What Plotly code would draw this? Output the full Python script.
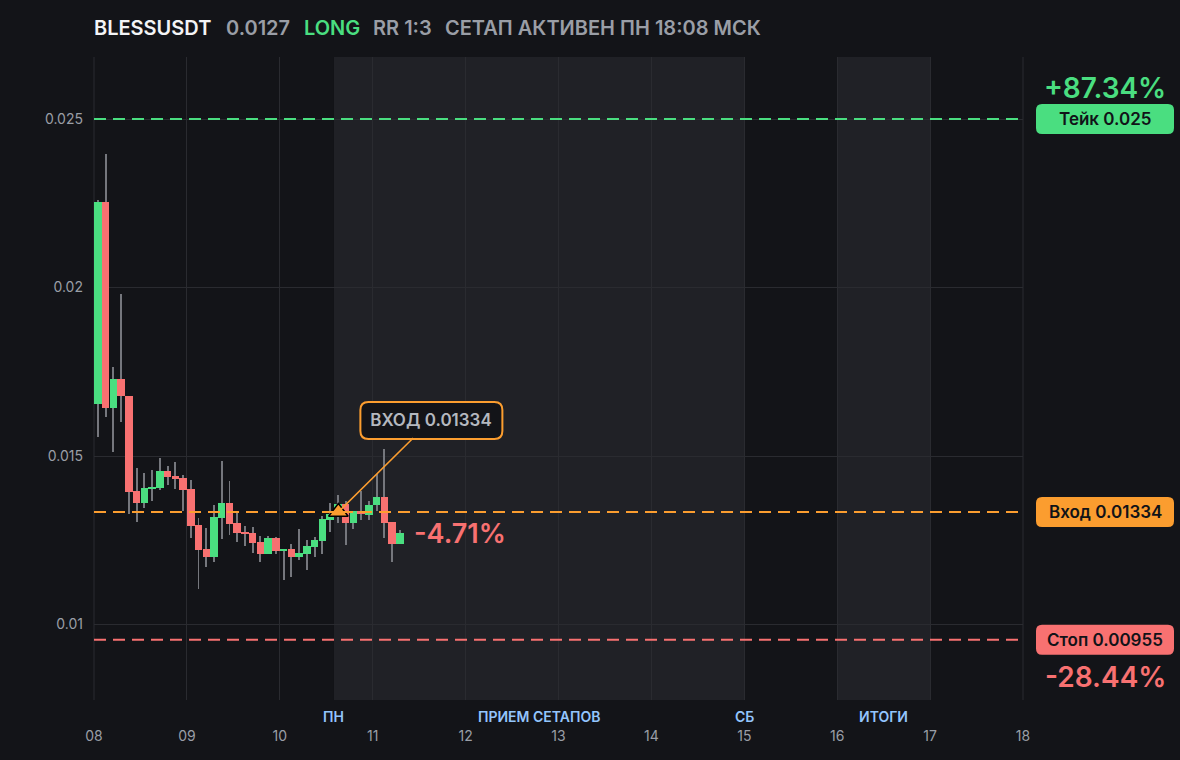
import pandas as pd
import plotly.graph_objects as go

# --- данные сетапа ---
SYMBOL = "BLESSUSDT"
LAST_PRICE = "0.0127"
TAKE = 0.025
ENTRY = 0.01334
STOP = 0.00955
ENTRY_TIME = "2025-11-10 15:08"
FIRST_CANDLE = "2025-11-08 01:00"

# 2h свечи
opens = [0.01655, 0.02254, 0.01643, 0.01729, 0.01677, 0.01396, 0.01362, 0.01403,
         0.01405, 0.01456, 0.01441, 0.01435, 0.01402, 0.01295, 0.01224, 0.01200,
         0.01316, 0.01361, 0.01301, 0.01275, 0.01272, 0.01245, 0.01209, 0.01257,
         0.01218, 0.01224, 0.01200, 0.01209, 0.01230, 0.01248, 0.01310, 0.01325,
         0.01358, 0.01301, 0.01337, 0.01325, 0.01355, 0.01378, 0.01304, 0.01239]
highs = [0.02260, 0.02396, 0.01764, 0.01981, 0.01677, 0.01464, 0.01450, 0.01459,
         0.01494, 0.01470, 0.01482, 0.01444, 0.01429, 0.01316, 0.01286, 0.01355,
         0.01485, 0.01426, 0.01331, 0.01292, 0.01290, 0.01263, 0.01263, 0.01260,
         0.01224, 0.01239, 0.01283, 0.01251, 0.01260, 0.01322, 0.01361, 0.01384,
         0.01367, 0.01337, 0.01396, 0.01367, 0.01447, 0.01521, 0.01304, 0.01280]
lows = [0.01557, 0.01617, 0.01513, 0.01602, 0.01328, 0.01305, 0.01347, 0.01367,
        0.01400, 0.01414, 0.01402, 0.01337, 0.01257, 0.01106, 0.01171, 0.01186,
        0.01254, 0.01266, 0.01245, 0.01233, 0.01212, 0.01186, 0.01209, 0.01209,
        0.01132, 0.01141, 0.01191, 0.01162, 0.01200, 0.01209, 0.01275, 0.01301,
        0.01236, 0.01283, 0.01310, 0.01310, 0.01337, 0.01257, 0.01186, 0.01239]
closes = [0.02254, 0.01643, 0.01729, 0.01677, 0.01394, 0.01362, 0.01405, 0.01409,
          0.01456, 0.01438, 0.01432, 0.01400, 0.01292, 0.01222, 0.01200, 0.01319,
          0.01361, 0.01298, 0.01272, 0.01269, 0.01242, 0.01209, 0.01257, 0.01218,
          0.01224, 0.01200, 0.01212, 0.01233, 0.01251, 0.01313, 0.01328, 0.01358,
          0.01301, 0.01337, 0.01328, 0.01355, 0.01378, 0.01301, 0.01239, 0.01271]
times = pd.date_range(FIRST_CANDLE, periods=len(opens), freq="2h")

# зоны недели и подписи к ним
zones = [("2025-11-10 14:00", "2025-11-15 00:00"),
         ("2025-11-16 00:00", "2025-11-17 00:00")]
zone_labels = [("2025-11-10 14:00", "ПН"),
               ("2025-11-12 19:00", "ПРИЕМ СЕТАПОВ"),
               ("2025-11-15 00:00", "СБ"),
               ("2025-11-16 12:00", "ИТОГИ")]

# --- стиль ---
BG = "#131418"
ZONE = "#202126"
GRID = "#2a2b30"
MUTED = "#9a9ea6"
GREEN = "#4ade80"
RED = "#f87171"
ORANGE = "#fb9d2f"
WICK = "#75777d"
FONT = "Inter"

PLOT_L, PLOT_R, PLOT_T, PLOT_B = 94, 1023, 57, 700


def paper_x(px):
    return (px - PLOT_L) / (PLOT_R - PLOT_L)


def rounded(x0, x1, y0, y1, r):
    return (f"M {x0 + r},{y0} L {x1 - r},{y0} Q {x1},{y0} {x1},{y0 + r} "
            f"L {x1},{y1 - r} Q {x1},{y1} {x1 - r},{y1} L {x0 + r},{y1} "
            f"Q {x0},{y1} {x0},{y1 - r} L {x0},{y0 + r} Q {x0},{y0} {x0 + r},{y0} Z")


colors = [GREEN if c >= o else RED for o, c in zip(opens, closes)]
body_base = [min(o, c) for o, c in zip(opens, closes)]
body_len = [abs(c - o) for o, c in zip(opens, closes)]
wick_len = [h - l for h, l in zip(highs, lows)]

fig = go.Figure()

# фитили
fig.add_trace(go.Bar(
    x=times, y=wick_len, base=lows, width=900000,
    marker=dict(color=WICK, line=dict(width=0)), hoverinfo="skip"
))
# тела свечей
fig.add_trace(go.Bar(
    x=times, y=body_len, base=body_base, width=6950000,
    marker=dict(color=colors, line=dict(width=0)),
    customdata=list(zip(opens, highs, lows, closes)),
    hovertemplate="O %{customdata[0]}<br>H %{customdata[1]}<br>L %{customdata[2]}<br>C %{customdata[3]}<extra></extra>"
))
# точка входа
fig.add_trace(go.Scatter(
    x=[ENTRY_TIME], y=[ENTRY], mode="markers",
    marker=dict(symbol="triangle-up", size=17, color=ORANGE, line=dict(color="#000000", width=1.5)),
    hoverinfo="skip"
))

for x0, x1 in zones:
    fig.add_shape(type="rect", xref="x", yref="paper", x0=x0, x1=x1, y0=0, y1=1,
                  fillcolor=ZONE, line=dict(width=0), layer="below")

# крайние линии сетки
for edge in (0, 1):
    fig.add_shape(type="line", xref="paper", yref="paper", x0=edge, x1=edge, y0=0, y1=1,
                  line=dict(color=GRID, width=1), layer="below")

for x, text in zone_labels:
    fig.add_annotation(x=x, y=0, xref="x", yref="paper", yshift=-16, showarrow=False,
                       text=text, xanchor="center", yanchor="middle",
                       font=dict(family=FONT, size=14, color="#93c5fd", weight=600))

# уровни тейк / вход / стоп
for level, color in [(TAKE, GREEN), (ENTRY, ORANGE), (STOP, RED)]:
    fig.add_shape(type="line", xref="paper", x0=0, x1=1, y0=level, y1=level,
                  line=dict(color=color, width=2, dash="12px,7px"), layer="above")

# плашки справа
badge_x = paper_x(1105)
for level, color, text in [(TAKE, GREEN, "Тейк 0.025"),
                           (ENTRY, ORANGE, "Вход 0.01334"),
                           (STOP, RED, "Стоп 0.00955")]:
    fig.add_shape(type="path", xref="paper", yref="y", xsizemode="pixel", ysizemode="pixel",
                  xanchor=badge_x, yanchor=level, path=rounded(-69, 69, -15, 15, 6),
                  fillcolor=color, line=dict(width=0), layer="above")
    fig.add_annotation(x=badge_x, y=level, xref="paper", yref="y", showarrow=False,
                       xanchor="center", yanchor="middle", text=text,
                       font=dict(family=FONT, size=17, color="#111318", weight=600))

fig.add_annotation(x=badge_x, y=TAKE, xref="paper", yref="y", yshift=31, showarrow=False,
                   xanchor="center", yanchor="middle", text="+87.34%",
                   font=dict(family=FONT, size=28, color=GREEN, weight=600))
fig.add_annotation(x=badge_x, y=STOP, xref="paper", yref="y", yshift=-37, showarrow=False,
                   xanchor="center", yanchor="middle", text="-28.44%",
                   font=dict(family=FONT, size=28, color=RED, weight=600))

# текущий результат
fig.add_annotation(x=times[-1], y=closes[-1], xanchor="left", xshift=12, showarrow=False,
                   text="-4.71%", font=dict(family=FONT, size=27, color=RED, weight=600))

# выноска входа
fig.add_shape(type="path", xref="x", yref="y", xsizemode="pixel", ysizemode="pixel",
              xanchor=ENTRY_TIME, yanchor=ENTRY, path=rounded(22, 164, 73, 110, 8),
              fillcolor=BG, line=dict(color=ORANGE, width=2), layer="between")
fig.add_annotation(x=ENTRY_TIME, y=ENTRY, ax=93, ay=-92, showarrow=True,
                   arrowhead=0, arrowwidth=1.6, arrowcolor=ORANGE, standoff=0,
                   width=140, height=35, borderpad=0, borderwidth=1,
                   bordercolor="rgba(0,0,0,0)",
                   text="ВХОД 0.01334",
                   font=dict(family=FONT, size=17, color="#b4b8bf", weight=600))

# заголовок
header = [(92, SYMBOL, "#f3f4f6"), (224, LAST_PRICE, MUTED), (302, "LONG", GREEN),
          (371, "RR 1:3", MUTED), (443, "СЕТАП АКТИВЕН ПН 18:08 МСК", MUTED)]
for px, text, color in header:
    fig.add_annotation(x=paper_x(px), y=1, xref="paper", yref="paper", yshift=29,
                       xanchor="left", yanchor="middle", showarrow=False, text=text,
                       font=dict(family=FONT, size=20, color=color, weight=600))

fig.update_layout(
    width=1180, height=760,
    margin=dict(l=PLOT_L, r=1180 - PLOT_R, t=PLOT_T, b=760 - PLOT_B),
    paper_bgcolor=BG, plot_bgcolor=BG,
    showlegend=False, barmode="overlay", bargap=0,
    font=dict(family=FONT, size=14, color=MUTED),
)
fig.update_xaxes(
    type="date", range=["2025-11-08", "2025-11-18"], dtick=86400000, tick0="2025-11-08",
    tickformat="%d", showgrid=True, gridcolor=GRID, gridwidth=1, zeroline=False,
    showline=False, ticks="", ticklabelstandoff=26, tickfont=dict(size=14, color=MUTED),
)
fig.update_yaxes(
    range=[0.00776, 0.02684], tickvals=[0.01, 0.015, 0.02, 0.025],
    showgrid=True, gridcolor=GRID, gridwidth=1, zeroline=False, showline=False,
    ticks="", ticklabelstandoff=10, tickfont=dict(size=14, color=MUTED),
)

fig.write_html(
    "out.html",
    config={"displayModeBar": False},
    post_script="document.body.style.margin='0';document.body.style.background='#131418';",
)
